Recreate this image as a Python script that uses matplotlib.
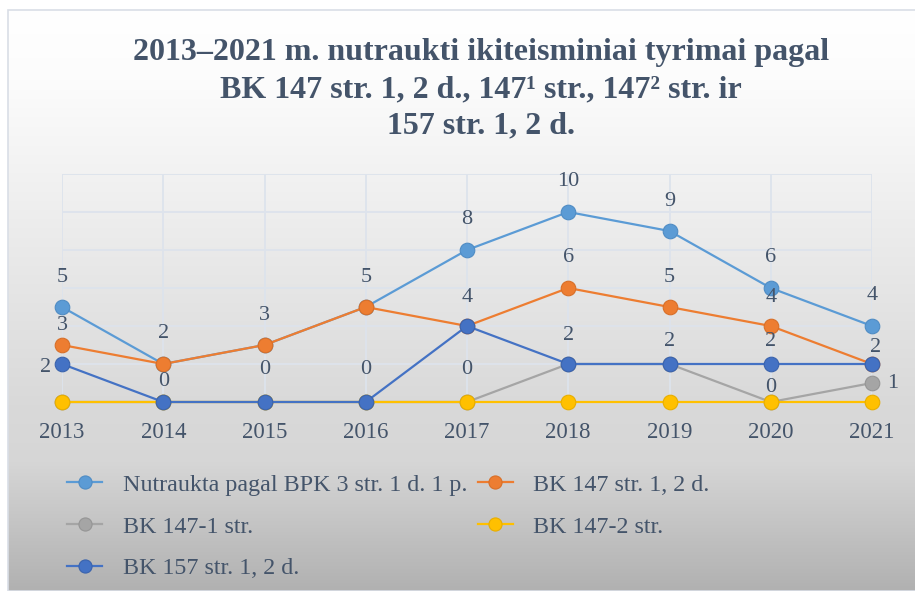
import numpy as np
import matplotlib
matplotlib.use("Agg")
import matplotlib.pyplot as plt
from matplotlib.colors import LinearSegmentedColormap
from matplotlib.patches import Rectangle

plt.rcParams['font.family'] = ['Liberation Serif', 'DejaVu Serif']

years = [2013, 2014, 2015, 2016, 2017, 2018, 2019, 2020, 2021]
bpk = [5, 2, 3, 5, 8, 10, 9, 6, 4]
bk147 = [3, 2, 3, 5, 4, 6, 5, 4, 2]
bk147_1 = [0, 0, 0, 0, 0, 2, 2, 0, 1]
bk147_2 = [0, 0, 0, 0, 0, 0, 0, 0, 0]
bk157 = [2, 0, 0, 0, 4, 2, 2, 2, 2]
names = ["Nutraukta pagal BPK 3 str. 1 d. 1 p.", "BK 147 str. 1, 2 d.",
         "BK 147-1 str.", "BK 147-2 str.", "BK 157 str. 1, 2 d."]
title = "2013–2021 m. nutraukti ikiteisminiai tyrimai pagal\nBK 147 str. 1, 2 d., 147¹ str., 147² str. ir\n157 str. 1, 2 d."

series = [bpk, bk147, bk147_1, bk147_2, bk157]
colors = ["#5b9bd5", "#ed7d31", "#a5a5a5", "#ffc000", "#4472c4"]
edges = ["#4f8cc4", "#d86f28", "#959595", "#e8ae00", "#3a63ad"]
txt = "#44546a"

# which data labels are shown, and their offsets in pixels (dx, dy)
label_pos = {
    0: {i: (0, 30) for i in range(9)},
    1: {0: (0, 20), 4: (0, 29), 5: (0, 30), 6: (0, 30), 7: (0, 29)},
    2: {4: (0, 32), 7: (0, 15), 8: (21, 0)},
    4: {0: (-16, -4), 1: (0, 20), 2: (0, 32), 3: (0, 32), 5: (0, 29),
        6: (0, 22), 7: (0, 22), 8: (4, 17)},
}

W, H = 915, 591
fig = plt.figure(figsize=(W / 100, H / 100), dpi=100)
fig.patch.set_facecolor("white")

# gradient chart area
x0, y0 = 8, 10
bg = fig.add_axes([x0 / W, 0, 1 - x0 / W, (H - y0) / H])
bg.set_axis_off()
cmap = LinearSegmentedColormap.from_list(
    "g", [(0, "#ffffff"), (0.12, "#fcfcfc"), (0.68, "#d9d9d9"),
          (0.78, "#d6d6d6"), (1.0, "#b1b1b1")])
grad = np.linspace(0, 1, 256).reshape(-1, 1)
bg.imshow(grad, aspect="auto", cmap=cmap, extent=[0, 1, 0, 1], origin="upper")
fig.patches.append(Rectangle((x0 / W, 0), 1 - x0 / W + 0.01, (H - y0) / H,
                             transform=fig.transFigure, fill=False,
                             edgecolor="#d9dee6", lw=1.2))

ax = fig.add_axes([62 / W, 1 - 402 / H, (872 - 62) / W, (402 - 174) / H])
ax.patch.set_alpha(0)
ax.set_xlim(2013, 2021)
ax.set_ylim(0, 12)
ax.set_yticks(range(0, 13, 2))
ax.set_xticks(years)
ax.grid(True, color="#dde3ec", lw=1.3)
ax.set_axisbelow(True)
for s in ax.spines.values():
    s.set_visible(False)
ax.tick_params(length=0, pad=14.5, labelsize=16.5, labelcolor=txt)
ax.set_yticklabels([])

handles = []
for k, vals in enumerate(series):
    h, = ax.plot(years, vals, color=colors[k], lw=1.6, marker="o", ms=10.5,
                 mfc=colors[k], mec=edges[k], mew=0.8, clip_on=False,
                 zorder=3 + k, label=names[k])
    handles.append(h)

for k, pos in label_pos.items():
    for i, (dx, dy) in pos.items():
        ax.annotate(str(series[k][i]), (years[i], series[k][i]),
                    xytext=(dx, dy), textcoords="offset pixels",
                    ha="center", va="center", fontsize=16, color=txt,
                    zorder=20, annotation_clip=False)

fig.text(481 / W, 1 - 38 / H, title, ha="center", va="top", fontsize=23,
         fontweight="bold", color=txt, linespacing=1.36)

order = [0, 2, 4, 1, 3]
fig.legend([handles[i] for i in order], [names[i] for i in order],
           loc="upper left", bbox_to_anchor=(67 / W, 1 - 474 / H), ncol=2,
           frameon=False, fontsize=17.3, labelcolor=txt, borderpad=0,
           borderaxespad=0, handlelength=1.46, handletextpad=0.85,
           columnspacing=0.45, labelspacing=0.83, markerscale=0.9)

fig.savefig("out.png", dpi=100)
